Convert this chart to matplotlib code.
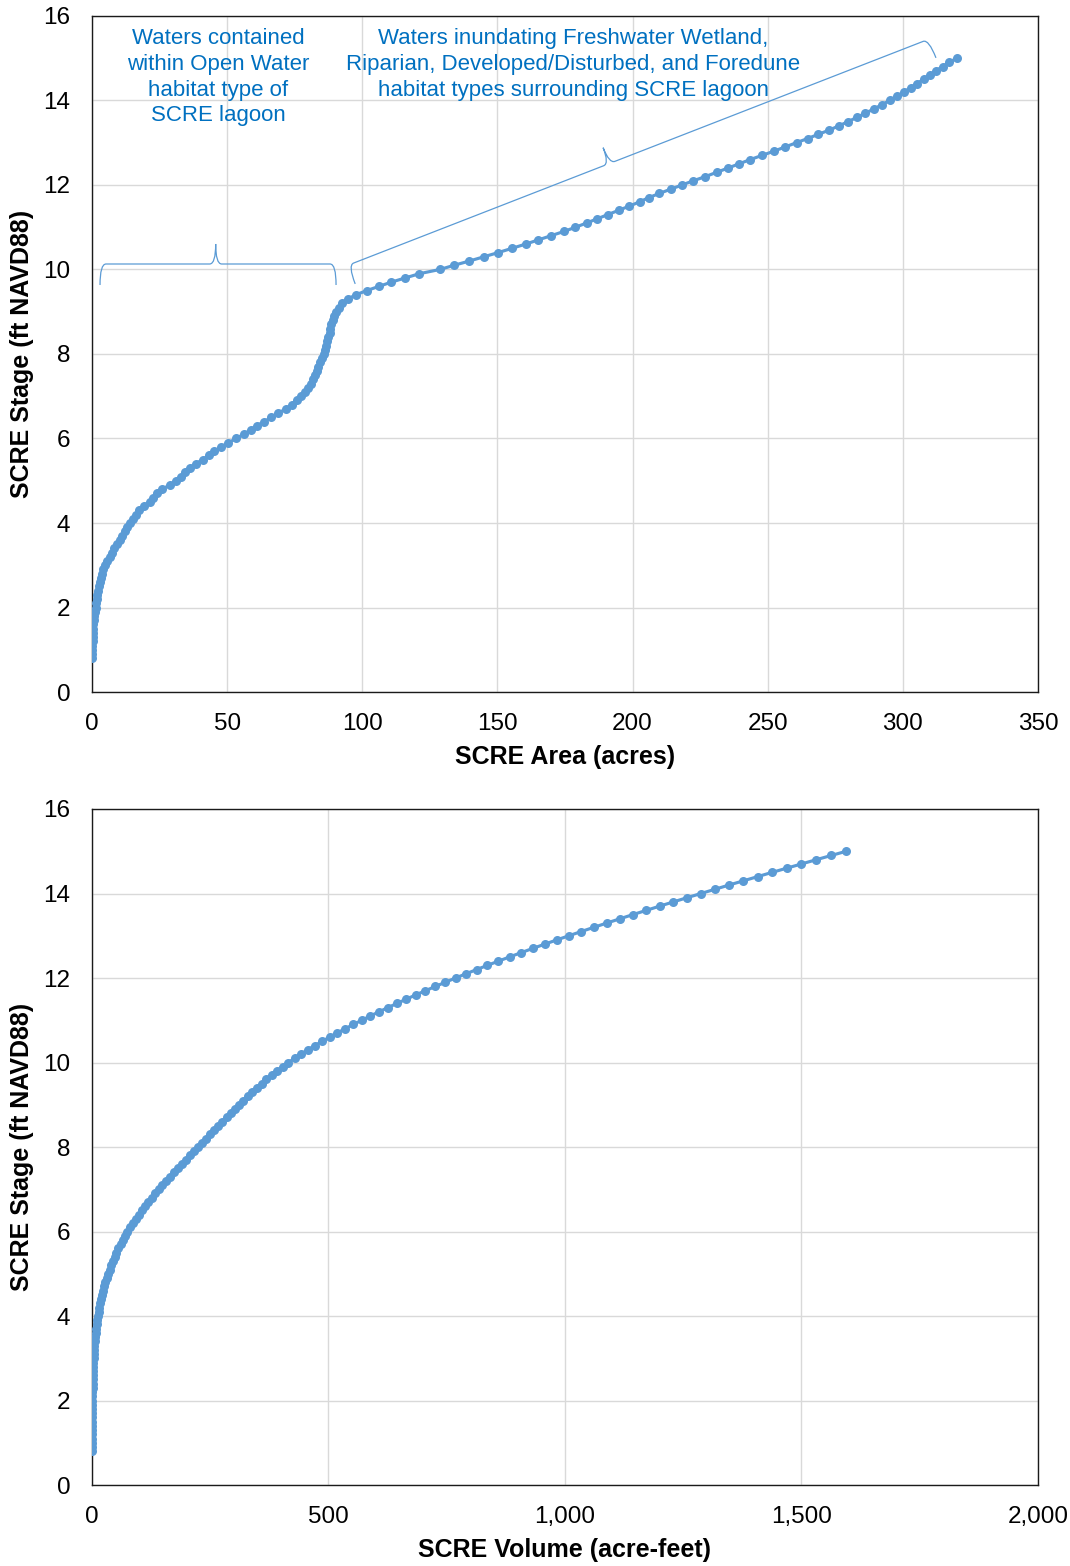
import numpy as np
import matplotlib
matplotlib.use("Agg")
import matplotlib.pyplot as plt
from matplotlib.path import Path
from matplotlib.patches import PathPatch
from matplotlib.ticker import FuncFormatter, MultipleLocator

plt.rcParams['font.family'] = ['Liberation Sans', 'DejaVu Sans']

# stage (ft NAVD88), one point per 0.1 ft
stage = [
    0.8, 0.9, 1.0, 1.1, 1.2, 1.3, 1.4, 1.5, 1.6, 1.7,
    1.8, 1.9, 2.0, 2.1, 2.2, 2.3, 2.4, 2.5, 2.6, 2.7,
    2.8, 2.9, 3.0, 3.1, 3.2, 3.3, 3.4, 3.5, 3.6, 3.7,
    3.8, 3.9, 4.0, 4.1, 4.2, 4.3, 4.4, 4.5, 4.6, 4.7,
    4.8, 4.9, 5.0, 5.1, 5.2, 5.3, 5.4, 5.5, 5.6, 5.7,
    5.8, 5.9, 6.0, 6.1, 6.2, 6.3, 6.4, 6.5, 6.6, 6.7,
    6.8, 6.9, 7.0, 7.1, 7.2, 7.3, 7.4, 7.5, 7.6, 7.7,
    7.8, 7.9, 8.0, 8.1, 8.2, 8.3, 8.4, 8.5, 8.6, 8.7,
    8.8, 8.9, 9.0, 9.1, 9.2, 9.3, 9.4, 9.5, 9.6, 9.7,
    9.8, 9.9, 10.0, 10.1, 10.2, 10.3, 10.4, 10.5, 10.6, 10.7,
    10.8, 10.9, 11.0, 11.1, 11.2, 11.3, 11.4, 11.5, 11.6, 11.7,
    11.8, 11.9, 12.0, 12.1, 12.2, 12.3, 12.4, 12.5, 12.6, 12.7,
    12.8, 12.9, 13.0, 13.1, 13.2, 13.3, 13.4, 13.5, 13.6, 13.7,
    13.8, 13.9, 14.0, 14.1, 14.2, 14.3, 14.4, 14.5, 14.6, 14.7,
    14.8, 14.9, 15.0,
]

# inundated area (acres)
area = [
    0.0, 0.05, 0.1, 0.15, 0.2, 0.25, 0.3, 0.35, 0.5, 0.7,
    0.9, 1.1, 1.3, 1.5, 1.8, 2.0, 2.3, 2.6, 2.9, 3.3,
    3.7, 4.2, 4.9, 5.6, 6.5, 7.4, 8.3, 9.1, 10.2, 11.2,
    12.1, 13.0, 14.1, 15.2, 16.2, 17.5, 19.3, 21.3, 22.6, 24.0,
    25.8, 28.9, 31.0, 32.8, 34.3, 36.1, 38.3, 41.0, 43.2, 45.3,
    47.8, 50.5, 53.3, 56.1, 58.7, 60.9, 63.8, 66.3, 68.8, 71.8,
    73.9, 75.8, 77.5, 78.7, 79.8, 80.9, 81.7, 82.4, 83.1, 83.7,
    84.4, 85.1, 85.7, 86.1, 86.6, 87.0, 87.5, 87.9, 88.2, 88.6,
    89.1, 89.6, 90.3, 91.3, 92.5, 94.6, 97.6, 101.6, 106.2, 110.7,
    115.9, 121.1, 128.7, 134.0, 139.6, 144.9, 150.3, 155.3, 160.4, 165.1,
    169.9, 174.6, 178.9, 183.0, 186.9, 190.9, 194.9, 198.8, 202.6, 206.0,
    209.9, 214.1, 218.3, 222.5, 227.0, 231.2, 235.3, 239.4, 243.5, 247.9,
    252.3, 256.5, 260.7, 264.8, 268.8, 272.8, 276.4, 279.8, 283.0, 286.2,
    289.3, 292.3, 295.1, 297.8, 300.4, 302.9, 305.2, 307.7, 310.0, 312.2,
    314.7, 317.2, 319.9,
]

# stored volume (acre-feet)
volume = [
    0.0, 0.0, 0.01, 0.02, 0.04, 0.06, 0.09, 0.12, 0.16, 0.22,
    0.30, 0.40, 0.52, 0.66, 0.83, 1.02, 1.23, 1.48, 1.75, 2.06,
    2.41, 2.81, 3.26, 3.79, 4.39, 5.09, 5.87, 6.74, 7.71, 8.78,
    9.94, 11.2, 12.6, 14.0, 15.6, 17.3, 19.1, 21.1, 23.3, 25.7,
    28.1, 30.9, 33.9, 37.1, 40.4, 44.0, 47.7, 51.6, 55.8, 60.3,
    64.9, 69.8, 75.0, 80.5, 86.2, 92.2, 98.4, 104.9, 111.7, 118.7,
    126.0, 133.5, 141.2, 149.0, 156.9, 164.9, 173.1, 181.3, 189.5, 197.9,
    206.3, 214.8, 223.3, 231.9, 240.5, 249.2, 257.9, 266.7, 275.5, 284.4,
    293.2, 302.2, 311.2, 320.2, 329.4, 338.8, 348.4, 358.4, 368.8, 379.6,
    390.9, 402.8, 415.3, 428.4, 442.1, 456.3, 471.1, 486.4, 502.2, 518.4,
    535.2, 552.4, 570.1, 588.2, 606.7, 625.6, 644.8, 664.5, 684.6, 705.0,
    725.8, 747.0, 768.6, 790.7, 813.1, 836.0, 859.4, 883.1, 907.3, 931.8,
    956.8, 982.3, 1008.1, 1034.4, 1061.1, 1088.2, 1115.6, 1143.4, 1171.6, 1200.0,
    1228.8, 1257.9, 1287.3, 1316.9, 1346.8, 1377.0, 1407.4, 1438.0, 1468.9, 1500.0,
    1531.4, 1563.0, 1594.8,
]

open_water_note = "Waters contained\nwithin Open Water\nhabitat type of\nSCRE lagoon"
surrounding_note = ("Waters inundating Freshwater Wetland,\n"
                    "Riparian, Developed/Disturbed, and Foredune\n"
                    "habitat types surrounding SCRE lagoon")

LINE_BLUE = '#5B9BD5'
TEXT_BLUE = '#0070C0'
GRID = '#D9D9D9'


def style_axes(ax, xmax, xstep, xlabel):
    ax.set_xlim(0, xmax)
    ax.set_ylim(0, 16)
    ax.xaxis.set_major_locator(MultipleLocator(xstep))
    ax.yaxis.set_major_locator(MultipleLocator(2))
    ax.grid(True, color=GRID, linewidth=1.0)
    ax.set_axisbelow(True)
    for sp in ax.spines.values():
        sp.set_color('#1a1a1a')
        sp.set_linewidth(1.0)
    ax.tick_params(axis='both', length=0, labelsize=17.5, colors='#000000')
    ax.tick_params(axis='x', pad=15)
    ax.tick_params(axis='y', pad=15.5)
    ax.set_xlabel(xlabel, fontsize=18, fontweight='bold', labelpad=7.5)
    ax.set_ylabel('SCRE Stage (ft NAVD88)', fontsize=18, fontweight='bold', labelpad=6.5)


def draw_brace(ax, start, end, tip_frac, tip_px, hook_px, r_px=6):
    """Curly brace between two data points, drawn in display space."""
    trans = ax.transData
    p0 = np.array(trans.transform(start))
    p1 = np.array(trans.transform(end))
    u = (p1 - p0) / np.linalg.norm(p1 - p0)
    n = np.array([-u[1], u[0]])
    m = p0 + (p1 - p0) * tip_frac
    verts = [
        p0 - n * hook_px, p0, p0 + u * r_px,
        m - u * r_px, m, m + n * tip_px,
        m, m + u * r_px,
        p1 - u * r_px, p1, p1 - n * hook_px,
    ]
    codes = [Path.MOVETO, Path.CURVE3, Path.CURVE3,
             Path.LINETO, Path.CURVE3, Path.CURVE3,
             Path.CURVE3, Path.CURVE3,
             Path.LINETO, Path.CURVE3, Path.CURVE3]
    inv = trans.inverted()
    verts = inv.transform(np.array(verts))
    patch = PathPatch(Path(verts, codes), fill=False, edgecolor=LINE_BLUE,
                      linewidth=0.9, transform=ax.transData, clip_on=False)
    ax.add_patch(patch)


fig = plt.figure(figsize=(10.70, 15.66), dpi=100)
ax1 = fig.add_axes([0.086, 0.5581, 0.884, 0.4317])
ax2 = fig.add_axes([0.086, 0.0517, 0.884, 0.4317])

# top: stage vs area
ax1.plot(area, stage, '-o', color=LINE_BLUE, linewidth=2.25, markersize=6.5,
         markeredgewidth=0, zorder=3)
style_axes(ax1, 350, 50, 'SCRE Area (acres)')

ax1.text(46.6, 14.55, open_water_note, ha='center', va='center', fontsize=16,
         color=TEXT_BLUE, linespacing=1.3)
ax1.text(178, 14.85, surrounding_note, ha='center', va='center', fontsize=16,
         color=TEXT_BLUE, linespacing=1.3)

draw_brace(ax1, (2.96, 10.13), (90.3, 10.13), 0.49, 20, 21)
draw_brace(ax1, (94.7, 10.1), (309.6, 15.45), 0.45, 17, 20)

# bottom: stage vs volume
ax2.plot(volume, stage, '-o', color=LINE_BLUE, linewidth=2.25, markersize=6.5,
         markeredgewidth=0, zorder=3)
style_axes(ax2, 2000, 500, 'SCRE Volume (acre-feet)')
ax2.xaxis.set_major_formatter(FuncFormatter(lambda v, p: f"{v:,.0f}"))

fig.savefig('out.png', dpi=100)
